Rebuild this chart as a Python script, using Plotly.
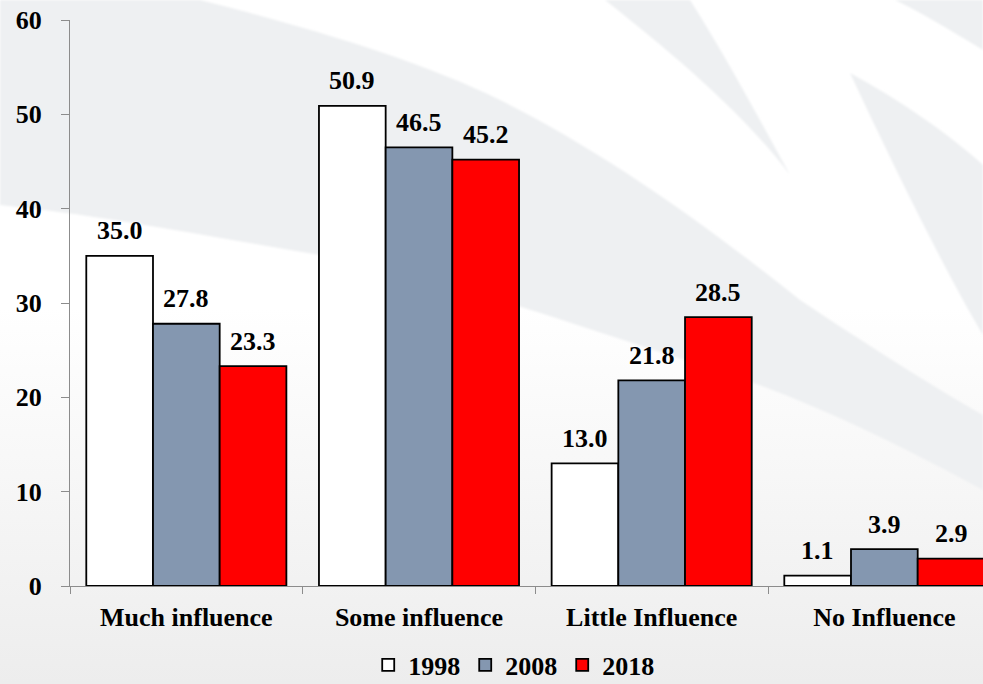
import base64
import plotly.graph_objects as go

# ---- data -------------------------------------------------------------
categories = ["Much influence", "Some influence", "Little Influence", "No Influence"]
years = ["1998", "2008", "2018"]
values_1998 = [35.0, 50.9, 13.0, 1.1]
values_2008 = [27.8, 46.5, 21.8, 3.9]
values_2018 = [23.3, 45.2, 28.5, 2.9]
y_ticks = [0, 10, 20, 30, 40, 50, 60]

series = [values_1998, values_2008, values_2018]
colors = ["#FFFFFF", "#8497B0", "#FF0000"]

# ---- geometry ---------------------------------------------------------
W, H = 983, 684
M_L, M_R, M_T, M_B = 70, 0, 20, 98
PLOT_W = W - M_L - M_R
PLOT_H = H - M_T - M_B
X_RANGE = [-0.5, 3.424]
BARGAP = 0.14

FONT = "Times New Roman, Liberation Serif, DejaVu Serif, serif"
AXIS_GREY = "#8c8c8c"
BG_GREY = "#eef0f2"

# ---- decorative background (light grey swooshes on white) ----------------
svg = f"""<svg xmlns='http://www.w3.org/2000/svg' width='{W}' height='{H}' viewBox='0 0 {W} {H}'>
<defs>
<linearGradient id='g' x1='0' y1='0' x2='0' y2='1'>
<stop offset='0' stop-color='#ffffff'/>
<stop offset='0.45' stop-color='#ffffff'/>
<stop offset='1' stop-color='#ededed'/>
</linearGradient>
<filter id='b' x='-5%' y='-5%' width='110%' height='110%'><feGaussianBlur stdDeviation='1.3'/></filter>
</defs>
<rect x='0' y='0' width='{W}' height='{H}' fill='url(#g)'/>
<g fill='{BG_GREY}' filter='url(#b)'>
<path d='M0,0 L200,0 C300,25 420,60 500,100 C600,150 700,220 800,300 C860,340 930,385 983,415
 L983,490 C900,445 800,395 700,365 C560,320 420,270 320,255 C200,235 100,215 0,205 Z'/>
<path d='M605,0 L690,0 C725,55 760,120 790,175 C745,115 675,55 605,0 Z'/>
<path d='M850,73 C900,100 950,135 983,165 L983,335 C950,280 900,180 850,73 Z'/>
<path d='M895,0 L983,0 L983,50 C950,30 920,12 895,0 Z'/>
</g>
</svg>"""
bg_uri = "data:image/svg+xml;base64," + base64.b64encode(svg.encode("utf-8")).decode("ascii")

# ---- figure -----------------------------------------------------------
fig = go.Figure()
for year, vals, col in zip(years, series, colors):
    fig.add_trace(go.Bar(
        x=categories, y=vals, name=f"<b>{year}</b>",
        marker=dict(color=col, line=dict(color="#000000", width=1.8)),
        hoverinfo="skip",
    ))

# value labels above each bar
cat_px = PLOT_W / (X_RANGE[1] - X_RANGE[0])
bar_px = cat_px * (1 - BARGAP) / len(series)
for i, vals in enumerate(series):
    for cat, v in zip(categories, vals):
        fig.add_annotation(
            x=cat, y=v, xref="x", yref="y", text=f"<b>{v:.1f}</b>",
            showarrow=False, xanchor="center", yanchor="middle",
            xshift=(i - (len(series) - 1) / 2) * bar_px, yshift=25,
            font=dict(family=FONT, size=26, color="#000000"),
        )

fig.add_layout_image(
    source=bg_uri, xref="paper", yref="paper",
    x=-M_L / PLOT_W, y=1 + M_T / PLOT_H,
    sizex=W / PLOT_W, sizey=H / PLOT_H,
    xanchor="left", yanchor="top", sizing="stretch", layer="below",
)

fig.update_layout(
    width=W, height=H,
    margin=dict(l=M_L, r=M_R, t=M_T, b=M_B, pad=0, autoexpand=False),
    paper_bgcolor="#ffffff", plot_bgcolor="rgba(0,0,0,0)",
    barmode="group", bargap=BARGAP, bargroupgap=0,
    font=dict(family=FONT, size=26, color="#000000"),
    showlegend=True,
    legend=dict(
        orientation="h", x=0.486, xanchor="center", y=-0.1396, yanchor="middle",
        bgcolor="rgba(0,0,0,0)", font=dict(family=FONT, size=26),
        itemwidth=30, traceorder="normal",
    ),
    xaxis=dict(
        type="category", range=X_RANGE, showline=True, linecolor=AXIS_GREY, linewidth=1,
        ticks="outside", tickson="boundaries", ticklen=7, tickcolor=AXIS_GREY,
        showgrid=False, zeroline=False, ticklabelstandoff=8, automargin=False,
        tickvals=categories, ticktext=[f"<b>{c}</b>" for c in categories],
        tickfont=dict(family=FONT, size=26),
    ),
    yaxis=dict(
        range=[0, 60], tickvals=y_ticks, ticktext=[f"<b>{t}</b>" for t in y_ticks],
        showline=True, linecolor=AXIS_GREY, linewidth=1,
        ticks="outside", ticklen=8, tickcolor=AXIS_GREY,
        showgrid=False, zeroline=False, ticklabelstandoff=14, automargin=False,
        tickfont=dict(family=FONT, size=26),
    ),
)

fig.write_html("out.html")
